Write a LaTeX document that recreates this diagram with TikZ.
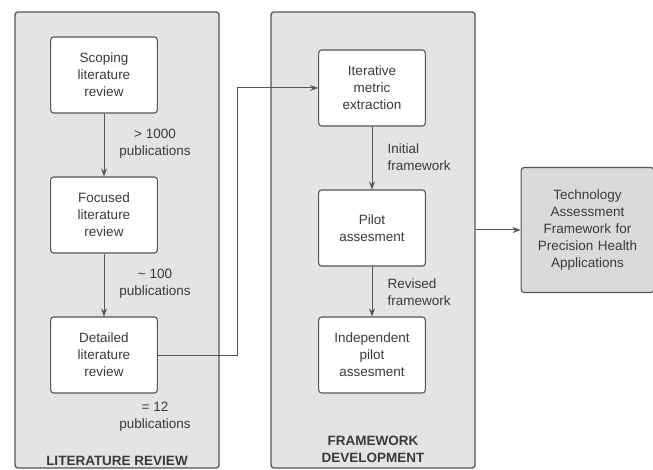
\documentclass[tikz,border=0pt]{standalone}
\usepackage{fontspec}
\setmainfont{Liberation Sans}
\usepackage{xcolor}
\usetikzlibrary{arrows.meta}
\definecolor{panelgray}{HTML}{E4E4E4}
\definecolor{resultgray}{HTML}{DADADA}
\definecolor{linegray}{HTML}{555555}
\definecolor{textgray}{HTML}{3A3A3A}
\tikzset{
panel/.style={draw=linegray, line width=1.3pt, fill=panelgray, rounded corners=3pt, minimum width=204, minimum height=456},
stage/.style={draw=linegray, line width=1.1pt, fill=white, rounded corners=3pt, minimum width=103, minimum height=76, text width=100, align=center, text=textgray, font=\fontsize{13.5}{17}\selectfont},
count/.style={align=center, text=textgray, font=\fontsize{13.5}{17}\selectfont},
title/.style={align=center, text=textgray, font=\fontsize{13.5}{17}\selectfont\bfseries},
arr/.style={draw=linegray, line width=1pt, -{Stealth[length=8pt, width=6pt]}}
}
\begin{document}
\begin{tikzpicture}[x=1pt, y=-1pt]
\useasboundingbox (0,0) rectangle (653,470);

% panels
\node[panel] (litpanel) at (117,240) {};
\node[panel] (fwpanel) at (373,240) {};
\node[title] (littitle) at (117,461) {LITERATURE REVIEW};
\node[title] (fwtitle) at (373,449) {FRAMEWORK\\DEVELOPMENT};

% literature review
\node[stage] (scoping) at (104,75) {Scoping\\literature\\review};
\node[stage] (focused) at (104,215) {Focused\\literature\\review};
\node[stage] (detailed) at (104,355) {Detailed\\literature\\review};
\draw[arr] (scoping) -- (focused);
\draw[arr] (focused) -- (detailed);
\node[count] (n1000) at (155,144) {> 1000\\publications};
\node[count] (n100) at (155,284) {\textasciitilde{} 100\\publications};
\node[count] (n12) at (155,417) {= 12\\publications};

% framework development
\node[stage] (iterative) at (372,88) {Iterative\\metric\\extraction};
\node[stage] (pilot) at (372,228) {Pilot\\assesment};
\node[stage] (independent) at (372,355) {Independent\\pilot\\assesment};
\draw[arr] (iterative) -- (pilot);
\draw[arr] (pilot) -- (independent);
\node[count, anchor=west, align=left] (initial) at (384,157) {Initial\\framework};
\node[count, anchor=west, align=left] (revised) at (384,292) {Revised\\framework};

\coordinate (bend) at (237,355);
\draw[arr] (detailed.east) -- (bend) |- (iterative.west);

% result
\node[stage, fill=resultgray, minimum width=129, minimum height=125, text width=126] (result) at (587.5,230) {Technology\\Assessment\\Framework for\\Precision Health\\Applications};
\draw[arr] (fwpanel.east |- result.west) -- (result.west);
\end{tikzpicture}
\end{document}
